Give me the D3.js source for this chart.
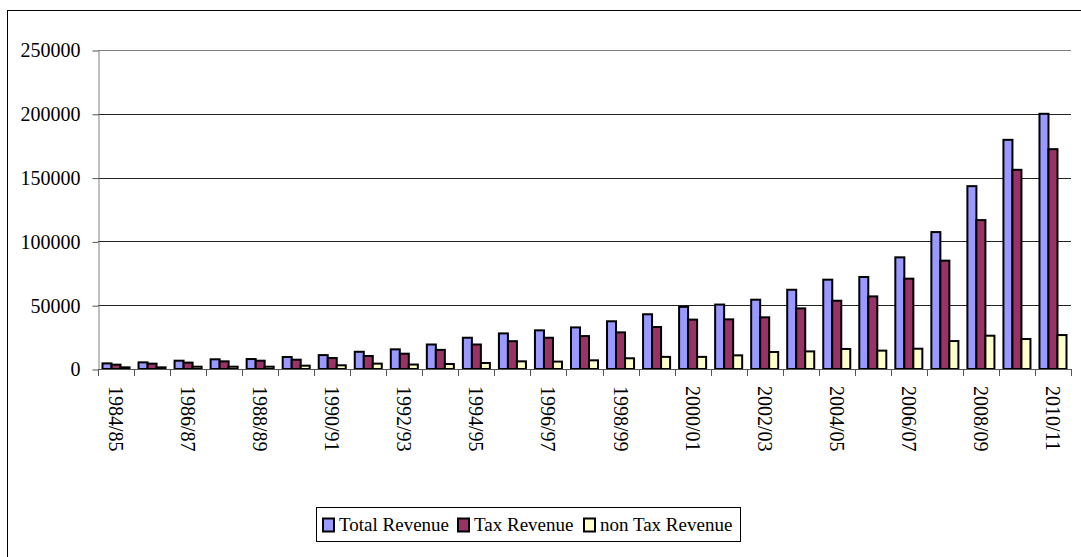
<!DOCTYPE html>
<html>
<head>
<meta charset="utf-8">
<script src="https://cdn.jsdelivr.net/npm/d3@7"></script>
<style>
  body { margin: 0; background: #fff; }
  svg { display: block; }
  svg text { font-family: "Liberation Serif", "Times New Roman", serif; }
</style>
</head>
<body>
<div id="chart"></div>
<script>
// fiscal years
var years = ["1984/85","1985/86","1986/87","1987/88","1988/89","1989/90","1990/91","1991/92",
  "1992/93","1993/94","1994/95","1995/96","1996/97","1997/98","1998/99","1999/00","2000/01",
  "2001/02","2002/03","2003/04","2004/05","2005/06","2006/07","2007/08","2008/09","2009/10","2010/11"];

var totalRevenue = [4400,5200,6500,7600,7800,9400,10900,13500,15400,19200,24500,27900,30300,32600,
  37400,42900,48700,50500,54300,62100,70000,72100,87500,107300,143300,179600,200000];
var taxRevenue = [3400,4200,5000,6000,6500,7300,8600,10200,12000,15000,19200,21800,24500,25800,
  28700,32900,38700,38900,40500,47500,53500,56900,70800,84900,116700,156100,172300];
var nonTaxRevenue = [1300,1300,1800,1800,1800,2600,2900,4200,3500,3900,4700,6000,5800,6800,
  8400,9500,9500,10700,13300,13800,15700,14400,15900,21900,26100,23500,26600];

var seriesNames = ["Total Revenue","Tax Revenue","non Tax Revenue"];
var yTicks = [0,50000,100000,150000,200000,250000];

var colors = ["#9999FF","#993366","#FFFFCC"];
var W = 1081, H = 557;
// plot area ("top" is a window global, so other names)
var plotLeft = 98, plotRight = 1071, plotTop = 50, plotBottom = 369;

var svg = d3.select("#chart").append("svg").attr("width", W).attr("height", H);

// outer chart border
svg.append("rect").attr("x", 7.5).attr("y", 10.5).attr("width", W).attr("height", H)
  .attr("fill", "none").attr("stroke", "#000").attr("stroke-width", 1);

var x = d3.scaleBand().domain(years).range([plotLeft, plotRight]).padding(0);
var inner = d3.scaleBand().domain([0,1,2]).range([0, x.bandwidth()]).paddingOuter(0.5).paddingInner(0);
var y = d3.scaleLinear().domain([0, 250000]).range([plotBottom, plotTop]);

// gridlines
svg.append("g").selectAll("line").data(yTicks.slice(1)).enter().append("line")
  .attr("x1", plotLeft).attr("x2", plotRight)
  .attr("y1", function (d) {return Math.round(y(d)) + 0.5;})
  .attr("y2", function (d) {return Math.round(y(d)) + 0.5;})
  .attr("stroke", function (d) {return d === 250000 ? "#808080" : "#222";})
  .attr("stroke-width", 1);

// y axis
var yAxis = svg.append("g").attr("transform", "translate(" + (plotLeft + 0.5) + ",0.5)")
  .call(d3.axisLeft(y).tickValues(yTicks).tickSize(6).tickPadding(12).tickSizeOuter(0)
    .tickFormat(d3.format("d")));
yAxis.attr("font-family", null);
yAxis.select(".domain").attr("stroke", "#808080");
yAxis.selectAll(".tick line").attr("stroke", "#555");
yAxis.selectAll("text").attr("font-size", 20).attr("fill", "#000");

// bars
var series = [totalRevenue, taxRevenue, nonTaxRevenue];
series.forEach(function (vals, s) {
  svg.append("g").selectAll("rect").data(vals).enter().append("rect")
    .attr("x", function (d, i) {return x(years[i]) + inner(s);})
    .attr("y", function (d) {return y(d);})
    .attr("width", inner.bandwidth())
    .attr("height", function (d) {return plotBottom - y(d);})
    .attr("fill", colors[s])
    .attr("stroke", "#000")
    .attr("stroke-width", 2);
});

// x axis with ticks at category boundaries
var xg = svg.append("g");
xg.append("line").attr("x1", plotLeft).attr("x2", plotRight)
  .attr("y1", plotBottom + 0.5).attr("y2", plotBottom + 0.5).attr("stroke", "#555");
var bounds = years.map(function (d) {return x(d);}).concat([plotRight]);
xg.selectAll("line.tk").data(bounds).enter().append("line").attr("class", "tk")
  .attr("x1", function (d) {return Math.round(d) + 0.5;})
  .attr("x2", function (d) {return Math.round(d) + 0.5;})
  .attr("y1", plotBottom).attr("y2", plotBottom + 7).attr("stroke", "#555");

xg.selectAll("text").data(years.filter(function (d, i) {return i % 2 === 0;}))
  .enter().append("text")
  .attr("transform", function (d) {
    return "translate(" + (x(d) + x.bandwidth() / 2) + "," + (plotBottom + 17) + ")rotate(90)";
  })
  .attr("dominant-baseline", "central")
  .attr("font-size", 20)
  .text(function (d) {return d;});

// legend
var lg = svg.append("g");
lg.append("rect").attr("x", 316.5).attr("y", 507.5).attr("width", 424).attr("height", 34)
  .attr("fill", "#fff").attr("stroke", "#000").attr("stroke-width", 1);
var legX = [323, 458, 584];
seriesNames.forEach(function (name, s) {
  lg.append("rect").attr("x", legX[s]).attr("y", 518.5).attr("width", 11).attr("height", 13)
    .attr("fill", colors[s]).attr("stroke", "#000").attr("stroke-width", 2);
  lg.append("text").attr("x", legX[s] + 16).attr("y", 531).attr("font-size", 19).text(name);
});
</script>
</body>
</html>
